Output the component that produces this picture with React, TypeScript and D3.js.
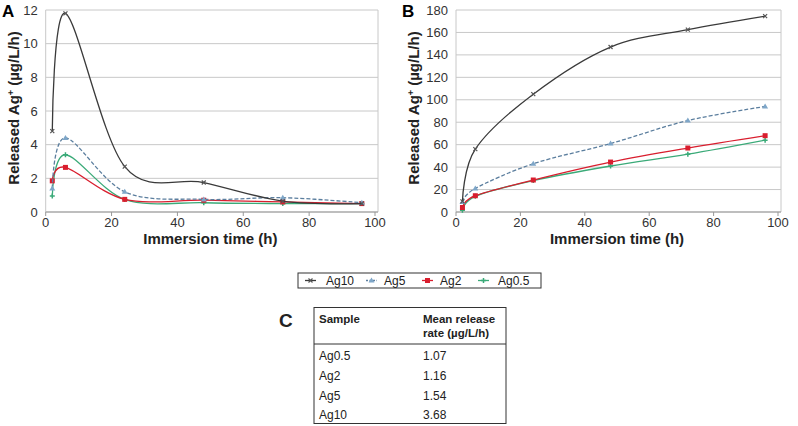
import React from 'react';
import * as d3 from 'd3';

const width = 798;
const height = 426;
const font = "'Liberation Sans', Arial, sans-serif";

// immersion time (h)
const times = [2, 6, 24, 48, 72, 96];

// A: release rate (µg/L/h)
const rateAg10 = [4.8, 11.8, 2.7, 1.75, 0.65, 0.5];
const rateAg5 = [1.4, 4.4, 1.2, 0.75, 0.85, 0.55];
const rateAg2 = [1.85, 2.65, 0.75, 0.7, 0.6, 0.5];
const rateAg05 = [0.95, 3.4, 0.75, 0.55, 0.5, 0.5];

// B: cumulative released Ag+
const cumAg10 = [9.5, 56, 105, 147, 162.5, 174.5];
const cumAg5 = [9, 21, 43, 61, 81.5, 94];
const cumAg2 = [4, 14.5, 28.5, 44.5, 57, 68];
const cumAg05 = [1.5, 14, 28, 41, 51.5, 64];

const xTicks = [0, 20, 40, 60, 80, 100];
const yTicksA = [0, 2, 4, 6, 8, 10, 12];
const yTicksB = [0, 20, 40, 60, 80, 100, 120, 140, 160, 180];

// C: table
const tableSamples = ['Ag0.5', 'Ag2', 'Ag5', 'Ag10'];
const tableRates = ['1.07', '1.16', '1.54', '3.68'];

const styles: any = {
  Ag10: { color: '#3a3a3a', dash: null, marker: 'x', mcolor: '#555' },
  Ag5: { color: '#5b7e9e', dash: '4,2', marker: 'tri', mcolor: '#7ea6c8' },
  Ag2: { color: '#d91e2e', dash: null, marker: 'sq', mcolor: '#d91e2e' },
  'Ag0.5': { color: '#3aaa78', dash: null, marker: 'plus', mcolor: '#3aaa78' },
};

function Marker({ kind, x, y, color }: any) {
  if (kind === 'x')
    return <path d={`M${x - 2},${y - 2}L${x + 2},${y + 2}M${x - 2},${y + 2}L${x + 2},${y - 2}`} stroke={color} strokeWidth={1.2} />;
  if (kind === 'tri')
    return <path d={`M${x},${y - 3}L${x + 3},${y + 2}L${x - 3},${y + 2}Z`} fill={color} />;
  if (kind === 'sq') return <rect x={x - 2.5} y={y - 2.5} width={5} height={5} fill={color} />;
  return <path d={`M${x - 2.5},${y}L${x + 2.5},${y}M${x},${y - 2.5}L${x},${y + 2.5}`} stroke={color} strokeWidth={1.5} />;
}

function Panel({ label, left, right, yMax, yTicks, data, titleX, labelX }: any) {
  const top = 10;
  const bottom = 212;
  const x = d3.scaleLinear().domain([0, 100]).range([left, right]);
  const y = d3.scaleLinear().domain([0, yMax]).range([bottom, top]);
  // Excel-like smoothing
  const line = d3
    .line<number>()
    .x((_, i) => x(times[i]))
    .y((d) => y(d))
    .curve(d3.curveCatmullRom.alpha(0));
  const order = ['Ag0.5', 'Ag2', 'Ag5', 'Ag10'];
  return (
    <g>
      <text x={labelX} y={17} fontSize={17} fontWeight="bold" fontFamily={font}>{label}</text>
      {yTicks.map((t: number) => (
        <g key={t}>
          <line x1={left} x2={right + 3} y1={y(t)} y2={y(t)} stroke="#c8c8c8" strokeWidth={1} />
          <text x={left - 8} y={y(t)} dy="0.35em" textAnchor="end" fontSize={13} fill="#333" fontFamily={font}>{t}</text>
        </g>
      ))}
      <line x1={left} x2={left} y1={top} y2={bottom} stroke="#c8c8c8" />
      <line x1={right + 3} x2={right + 3} y1={top} y2={bottom} stroke="#c8c8c8" />
      <line x1={left} x2={right + 3} y1={bottom} y2={bottom} stroke="#999" />
      {xTicks.map((t) => (
        <g key={t}>
          <line x1={x(t)} x2={x(t)} y1={bottom} y2={bottom + 4} stroke="#999" />
          <text x={x(t)} y={bottom + 10} dy="0.35em" textAnchor="middle" fontSize={13} fill="#333" fontFamily={font}>{t}</text>
        </g>
      ))}
      {order.map((name) => {
        const s = styles[name];
        const vals = data[name];
        return (
          <g key={name}>
            <path d={line(vals) || ''} fill="none" stroke={s.color} strokeWidth={1.3} strokeDasharray={s.dash || undefined} />
            {vals.map((v: number, i: number) => (
              <Marker key={i} kind={s.marker} x={x(times[i])} y={y(v)} color={s.mcolor} />
            ))}
          </g>
        );
      })}
      <text x={(left + right) / 2} y={244} textAnchor="middle" fontSize={15} fontWeight="bold" fill="#222" fontFamily={font}>Immersion time (h)</text>
      <text transform={`translate(${titleX},${(top + bottom) / 2 - 3}) rotate(-90)`} textAnchor="middle" fontSize={15} fontWeight="bold" fill="#222" fontFamily={font}>
        Released Ag<tspan dy={-5} fontSize={9}>+</tspan><tspan dy={5}> (µg/L/h)</tspan>
      </text>
    </g>
  );
}

function Legend() {
  const items = [
    { name: 'Ag10', sx: 305, tx: 326 },
    { name: 'Ag5', sx: 366, tx: 384 },
    { name: 'Ag2', sx: 422, tx: 440 },
    { name: 'Ag0.5', sx: 478, tx: 498 },
  ];
  const cy = 280.5;
  return (
    <g>
      <rect x={298} y={273} width={243} height={15} fill="#fff" stroke="#333" />
      {items.map((it) => {
        const s = styles[it.name];
        return (
          <g key={it.name}>
            <line x1={it.sx} x2={it.sx + 11} y1={cy} y2={cy} stroke={s.color} strokeWidth={1.3} strokeDasharray={s.dash ? '2,1.5' : undefined} />
            <Marker kind={s.marker} x={it.sx + 5.5} y={cy} color={s.mcolor} />
            <text x={it.tx} y={cy} dy="0.36em" fontSize={12} fill="#222" fontFamily={font}>{it.name}</text>
          </g>
        );
      })}
    </g>
  );
}

function Table() {
  const rowY = d3.scalePoint<number>().domain(d3.range(tableSamples.length)).range([356, 415]);
  return (
    <g fontFamily={font} fill="#222">
      <text x={279} y={327} fontSize={19} fontWeight="bold">C</text>
      <rect x={314} y={307.5} width={192} height={116} fill="#fff" stroke="#333" />
      <line x1={314} x2={506} y1={344} y2={344} stroke="#333" />
      <text x={319} y={319} dy="0.35em" fontSize={11.5} fontWeight="bold">Sample</text>
      <text x={423} y={319} dy="0.35em" fontSize={11.5} fontWeight="bold">Mean release</text>
      <text x={423} y={333} dy="0.35em" fontSize={11.5} fontWeight="bold">rate (µg/L/h)</text>
      {tableSamples.map((s, i) => (
        <g key={s}>
          <text x={319} y={rowY(i)} dy="0.35em" fontSize={12}>{s}</text>
          <text x={423} y={rowY(i)} dy="0.35em" fontSize={12}>{tableRates[i]}</text>
        </g>
      ))}
    </g>
  );
}

export default function App() {
  const dataA = { Ag10: rateAg10, Ag5: rateAg5, Ag2: rateAg2, 'Ag0.5': rateAg05 };
  const dataB = { Ag10: cumAg10, Ag5: cumAg5, Ag2: cumAg2, 'Ag0.5': cumAg05 };
  return (
    <svg width={width} height={height} style={{ position: 'absolute', left: 0, top: 0, background: '#fff' }}>
      <Panel label="A" labelX={2} left={45.7} right={375} yMax={12} yTicks={yTicksA} data={dataA} titleX={19} />
      <Panel label="B" labelX={402} left={456} right={778} yMax={180} yTicks={yTicksB} data={dataB} titleX={419} />
      <Legend />
      <Table />
    </svg>
  );
}
